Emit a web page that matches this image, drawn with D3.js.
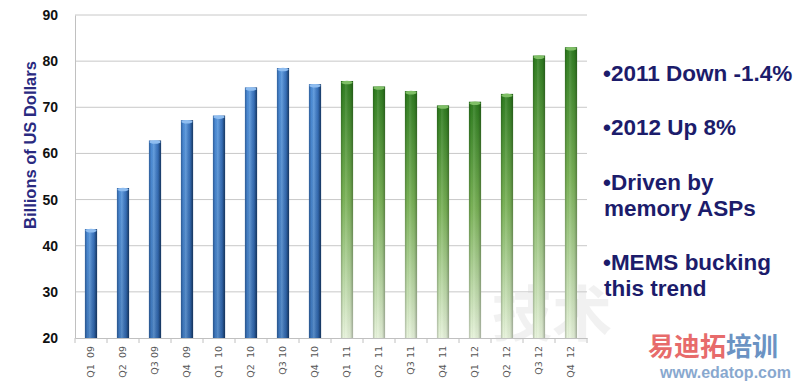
<!DOCTYPE html>
<html>
<head>
<meta charset="utf-8">
<script src="https://cdn.jsdelivr.net/npm/d3@7"></script>
<style>
  body { margin: 0; background: #fff; }
  svg { display: block; font-family: "Liberation Sans", Arial, sans-serif; }
</style>
</head>
<body>
<div id="chartArea"></div>
<script>
// quarters and revenue (billions of US dollars)
var quarters = ["Q1  09", "Q2  09", "Q3 09", "Q4  09", "Q1  10", "Q2  10", "Q3 10", "Q4  10",
                "Q1  11", "Q2  11", "Q3 11", "Q4  11", "Q1  12", "Q2  12", "Q3 12", "Q4  12"];
var revenue = [43.6, 52.5, 62.8, 67.2, 68.2, 74.3, 78.5, 75.0,
               75.7, 74.5, 73.5, 70.4, 71.2, 72.9, 81.2, 83.0];
// actual vs forecast
var kind = ["a", "a", "a", "a", "a", "a", "a", "a",
            "f", "f", "f", "f", "f", "f", "f", "f"];
var yTicks = [20, 30, 40, 50, 60, 70, 80, 90];
var notes = [["•2011 Down -1.4%"], ["•2012 Up 8%"], ["•Driven by", "memory ASPs"], ["•MEMS bucking", "this trend"]];

var W = 800, H = 385;
var svg = d3.select("#chartArea").append("svg")
    .attr("width", W)
    .attr("height", H);

var defs = svg.append("defs");

// blue cylinder look
var gBlue = defs.append("linearGradient").attr("id", "blue").attr("x1", 0).attr("x2", 1).attr("y1", 0).attr("y2", 0);
gBlue.append("stop").attr("offset", "0%").attr("stop-color", "#3f7cc9");
gBlue.append("stop").attr("offset", "35%").attr("stop-color", "#5596de");
gBlue.append("stop").attr("offset", "75%").attr("stop-color", "#3a75c2");
gBlue.append("stop").attr("offset", "100%").attr("stop-color", "#22528f");

// blue gets a bit darker toward the axis
var gShade = defs.append("linearGradient").attr("id", "shade").attr("x1", 0).attr("x2", 0).attr("y1", 0).attr("y2", 1);
gShade.append("stop").attr("offset", "0%").attr("stop-color", "#000").attr("stop-opacity", 0);
gShade.append("stop").attr("offset", "100%").attr("stop-color", "#001a40").attr("stop-opacity", 0.18);

// green fades to near white at the bottom
var gGreen = defs.append("linearGradient").attr("id", "green").attr("x1", 0).attr("x2", 0).attr("y1", 0).attr("y2", 1);
gGreen.append("stop").attr("offset", "0%").attr("stop-color", "#2e7d1f");
gGreen.append("stop").attr("offset", "45%").attr("stop-color", "#79b256");
gGreen.append("stop").attr("offset", "100%").attr("stop-color", "#e8f4dc");

// edge shading for both
var gEdge = defs.append("linearGradient").attr("id", "edge").attr("x1", 0).attr("x2", 1).attr("y1", 0).attr("y2", 0);
gEdge.append("stop").attr("offset", "0%").attr("stop-color", "#000").attr("stop-opacity", 0.22);
gEdge.append("stop").attr("offset", "20%").attr("stop-color", "#000").attr("stop-opacity", 0.0);
gEdge.append("stop").attr("offset", "40%").attr("stop-color", "#fff").attr("stop-opacity", 0.12);
gEdge.append("stop").attr("offset", "75%").attr("stop-color", "#000").attr("stop-opacity", 0.05);
gEdge.append("stop").attr("offset", "100%").attr("stop-color", "#000").attr("stop-opacity", 0.3);

var plotL = 75, plotR = 587, plotT = 15, plotB = 338;

var x = d3.scaleBand()
    .domain(quarters)
    .range([plotL, plotR])
    .paddingInner(0.62)
    .paddingOuter(0.31);

var y = d3.scaleLinear()
    .domain([20, 90])
    .range([plotB, plotT]);

// faint watermark behind the bars
svg.append("text").attr("x", 492).attr("y", 336).attr("font-size", 60).attr("font-weight", "bold")
    .attr("fill", "#000").attr("opacity", 0.05)
    .attr("font-family", "'Noto Sans CJK SC', sans-serif").text("技术");

// gridlines
svg.append("g").attr("class", "grid")
    .selectAll("line")
    .data(yTicks.slice(1))
    .enter().append("line")
    .attr("x1", plotL).attr("x2", plotR)
    .attr("y1", d => y(d)).attr("y2", d => y(d))
    .attr("stroke", "#c8c8c8")
    .attr("stroke-width", 1);

// y axis
var yAxis = svg.append("g")
    .attr("transform", "translate(" + plotL + ",0)")
    .call(d3.axisLeft(y).tickValues(yTicks).tickSize(0).tickPadding(17));
yAxis.select(".domain").attr("stroke", "#c0c0c0");
yAxis.selectAll("text")
    .attr("font-size", 14)
    .attr("font-weight", "bold")
    .attr("fill", "#111")
    .attr("font-family", "'Liberation Sans', Arial, sans-serif");

// x axis
var xAxis = svg.append("g")
    .attr("transform", "translate(0," + plotB + ")")
    .call(d3.axisBottom(x).tickSize(0));
xAxis.select(".domain").attr("stroke", "#c0c0c0");
xAxis.selectAll("text")
    .attr("transform", "rotate(-90)")
    .attr("text-anchor", "end")
    .attr("x", -8)
    .attr("y", 0)
    .attr("dy", "0.35em")
    .attr("font-size", 9.5)
    .attr("fill", "#555")
    .attr("font-family", "'DejaVu Sans', sans-serif")
    .style("white-space", "pre");

// tick marks between categories
svg.append("g").selectAll("line")
    .data(d3.range(quarters.length + 1))
    .enter().append("line")
    .attr("x1", i => plotL + i * x.step())
    .attr("x2", i => plotL + i * x.step())
    .attr("y1", plotB)
    .attr("y2", plotB + 5)
    .attr("stroke", "#c0c0c0");

// bars
var bars = svg.append("g").attr("class", "bars");
var idx = d3.range(quarters.length);

bars.selectAll("rect.body")
    .data(idx)
    .enter().append("rect")
    .attr("class", "body")
    .attr("x", i => x(quarters[i]))
    .attr("y", i => y(revenue[i]))
    .attr("width", x.bandwidth())
    .attr("height", i => plotB - y(revenue[i]))
    .attr("fill", i => kind[i] == "a" ? "url(#blue)" : "url(#green)");

bars.selectAll("rect.shade")
    .data(idx.filter(i => kind[i] == "a"))
    .enter().append("rect")
    .attr("class", "shade")
    .attr("x", i => x(quarters[i]))
    .attr("y", i => y(revenue[i]))
    .attr("width", x.bandwidth())
    .attr("height", i => plotB - y(revenue[i]))
    .attr("fill", "url(#shade)");

bars.selectAll("rect.edge")
    .data(idx)
    .enter().append("rect")
    .attr("class", "edge")
    .attr("x", i => x(quarters[i]))
    .attr("y", i => y(revenue[i]))
    .attr("width", x.bandwidth())
    .attr("height", i => plotB - y(revenue[i]))
    .attr("fill", "url(#edge)");

// top caps
bars.selectAll("ellipse")
    .data(idx)
    .enter().append("ellipse")
    .attr("cx", i => x(quarters[i]) + x.bandwidth() / 2)
    .attr("cy", i => y(revenue[i]) + 1.5)
    .attr("rx", x.bandwidth() / 2 - 0.5)
    .attr("ry", 1.8)
    .attr("fill", i => kind[i] == "a" ? "#8fbdf0" : "#7fbf66");

// y axis title
svg.append("text")
    .attr("transform", "translate(36," + 145 + ") rotate(-90)")
    .attr("text-anchor", "middle")
    .attr("font-size", 16.5)
    .attr("font-weight", "bold")
    .attr("fill", "#2a2a80")
    .text("Billions of US Dollars");

// bullet notes
var noteY = [81, 135, 190, 270];
var notesG = svg.append("g").attr("class", "notes");
notes.forEach(function (lines, k) {
    lines.forEach(function (line, j) {
        notesG.append("text")
            .attr("x", j == 0 ? 603 : 604)
            .attr("y", noteY[k] + j * 26)
            .attr("font-size", 22.5)
            .attr("font-weight", "bold")
            .attr("fill", "#1c1c6b")
            .text(line);
    });
});

// site watermark, bottom right
var wm = svg.append("g");
wm.append("text").attr("x", 648).attr("y", 356).attr("font-size", 26).attr("font-weight", "bold")
    .attr("fill", "#e03a3a").attr("opacity", 0.75)
    .attr("font-family", "'Noto Sans CJK SC', sans-serif").text("易迪拓");
wm.append("text").attr("x", 726).attr("y", 356).attr("font-size", 26).attr("font-weight", "bold")
    .attr("fill", "#3a6fb0").attr("opacity", 0.75)
    .attr("font-family", "'Noto Sans CJK SC', sans-serif").text("培训");
wm.append("text").attr("x", 660).attr("y", 378).attr("font-size", 16).attr("font-weight", "bold")
    .attr("fill", "#3a6fb0").attr("opacity", 0.6).text("www.edatop.com");
</script>
</body>
</html>
